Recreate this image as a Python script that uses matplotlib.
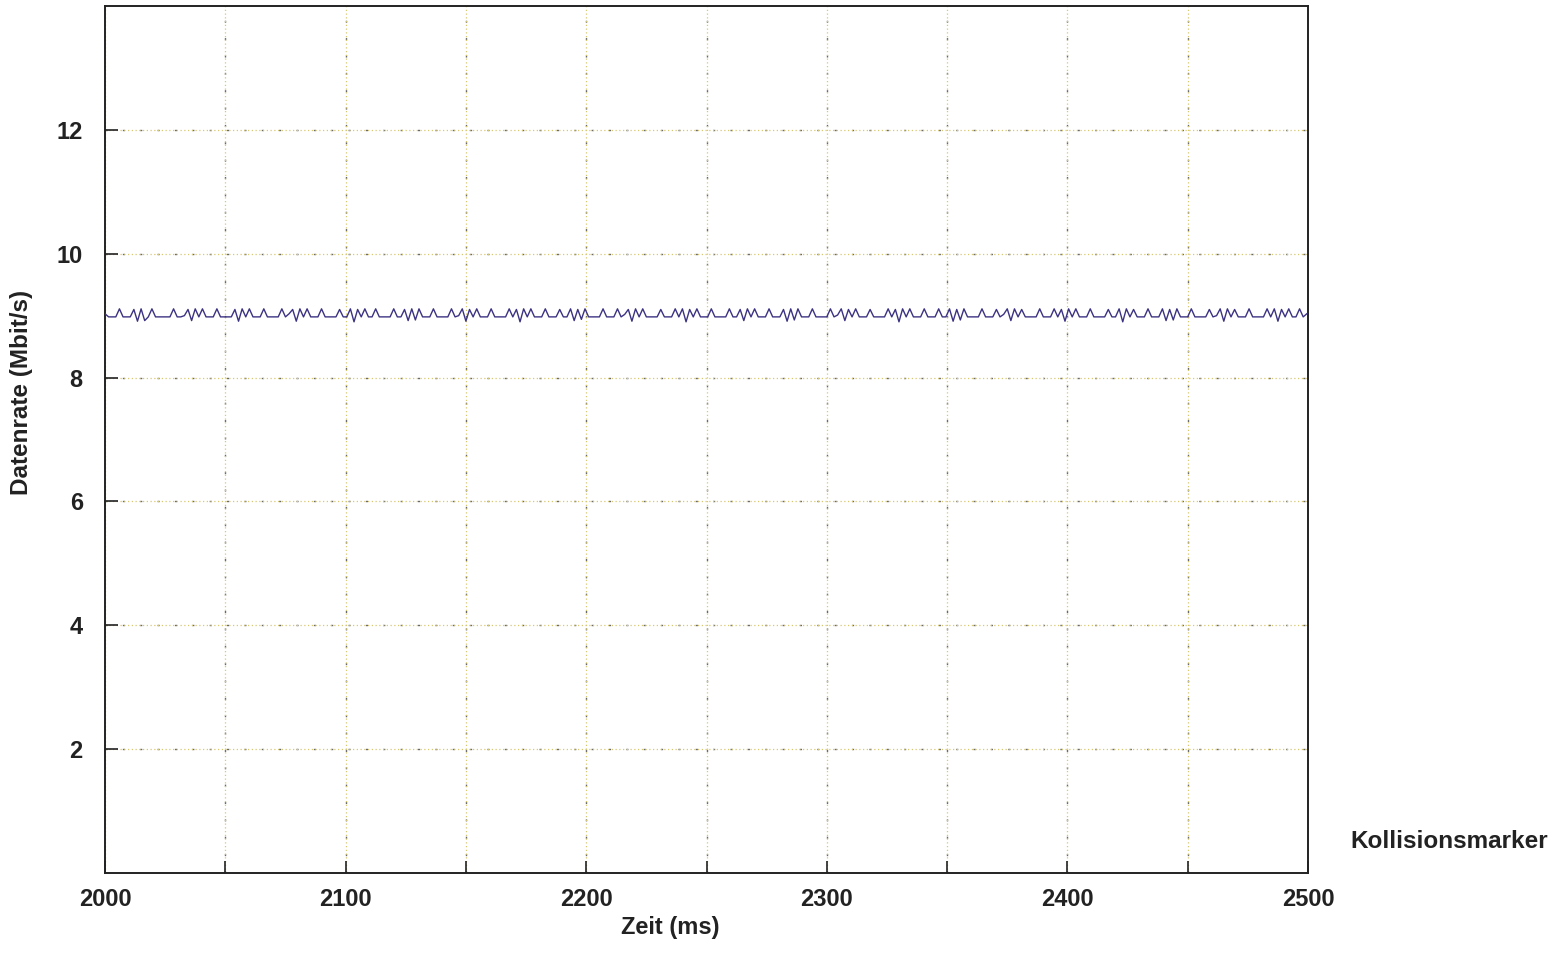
import numpy as np
import matplotlib
matplotlib.use("Agg")
import matplotlib.pyplot as plt
from matplotlib.ticker import MultipleLocator, FuncFormatter

# ---- data ----
t_start = 2000.0
t_step = 1.5
rate = [
    9.03, 8.98, 8.98, 8.98, 9.11, 8.98, 8.98, 8.98, 9.10, 8.91, 9.11, 8.92, 8.98, 9.11, 8.98,
    8.98, 8.98, 8.98, 8.98, 9.11, 8.98, 8.98, 9.00, 9.10, 8.92, 9.11, 8.98, 9.11, 8.98, 8.98,
    8.98, 9.11, 8.98, 8.98, 8.98, 8.98, 9.10, 8.91, 9.11, 8.98, 9.11, 8.98, 8.98, 8.98, 9.11,
    8.98, 8.98, 8.98, 8.98, 9.11, 8.98, 9.03, 9.10, 8.91, 9.11, 8.98, 9.11, 8.98, 8.98, 8.98,
    9.11, 8.98, 8.98, 8.98, 8.98, 9.10, 8.98, 8.98, 9.11, 8.90, 9.10, 8.98, 9.11, 8.98, 8.98,
    9.11, 8.98, 8.98, 8.98, 8.98, 9.11, 8.98, 8.98, 9.10, 8.92, 9.11, 8.93, 9.11, 8.98, 8.98,
    8.98, 9.11, 8.98, 8.98, 8.98, 8.98, 9.11, 8.98, 9.00, 9.11, 8.91, 9.10, 8.98, 9.11, 8.98,
    8.98, 8.98, 9.11, 8.98, 8.98, 8.98, 8.98, 9.11, 8.98, 9.10, 8.90, 9.11, 8.98, 9.11, 8.98,
    8.98, 8.98, 9.11, 8.98, 8.98, 8.98, 9.10, 8.98, 8.98, 9.11, 8.92, 9.10, 8.94, 9.11, 8.98,
    8.98, 8.98, 8.98, 9.11, 8.98, 8.98, 8.98, 9.11, 8.98, 9.02, 9.10, 8.91, 9.11, 8.98, 9.11,
    8.98, 8.98, 8.98, 8.98, 9.10, 8.98, 8.98, 8.98, 9.11, 8.98, 9.11, 8.90, 9.10, 8.98, 9.11,
    8.98, 8.98, 8.98, 9.11, 8.98, 8.98, 8.98, 8.98, 9.11, 8.98, 8.98, 9.10, 8.92, 9.11, 8.98,
    9.11, 8.98, 8.98, 8.98, 9.11, 8.98, 8.98, 8.98, 9.10, 8.91, 9.11, 8.93, 9.11, 8.98, 8.98,
    8.98, 9.11, 8.98, 8.98, 8.98, 8.98, 9.11, 8.98, 9.01, 9.11, 8.92, 9.10, 8.98, 9.11, 8.98,
    8.98, 8.98, 9.10, 8.98, 8.98, 8.98, 8.98, 9.11, 8.98, 9.10, 8.90, 9.11, 8.98, 9.11, 8.98,
    8.98, 8.98, 9.11, 8.98, 8.98, 8.98, 9.11, 8.98, 8.98, 9.11, 8.91, 9.10, 8.93, 9.11, 8.98,
    8.98, 8.98, 8.98, 9.11, 8.98, 8.98, 8.98, 9.10, 8.98, 9.02, 9.11, 8.92, 9.11, 8.98, 9.10,
    8.98, 8.98, 8.98, 8.98, 9.11, 8.98, 8.98, 8.98, 9.11, 8.98, 9.10, 8.91, 9.11, 8.98, 9.11,
    8.98, 8.98, 8.98, 9.11, 8.98, 8.98, 8.98, 8.98, 9.10, 8.98, 8.98, 9.11, 8.90, 9.11, 8.98,
    9.10, 8.98, 8.98, 8.98, 9.11, 8.98, 8.98, 8.98, 9.11, 8.92, 9.10, 8.93, 9.11, 8.98, 8.98,
    8.98, 9.11, 8.98, 8.98, 8.98, 8.98, 9.10, 8.98, 9.00, 9.11, 8.91, 9.11, 8.98, 9.10, 8.98,
    8.98, 8.98, 9.11, 8.98, 8.98, 8.98, 8.98, 9.11, 8.98, 9.11, 8.91, 9.10, 8.98, 9.11, 8.98,
    8.98, 9.11, 8.98, 9.03,
]
x_ticks_major = [2000, 2100, 2200, 2300, 2400, 2500]
y_ticks = [2, 4, 6, 8, 10, 12]
x_label = "Zeit (ms)"
y_label = "Datenrate (Mbit/s)"
side_label = "Kollisionsmarker"

time = t_start + t_step * np.arange(len(rate))

plt.rcParams["font.family"] = ["Liberation Sans", "DejaVu Sans"]
plt.rcParams["font.weight"] = "bold"

fig = plt.figure(figsize=(15.68, 9.68), dpi=100)
ax = fig.add_axes([105 / 1568, 1 - 873 / 968, (1308 - 105) / 1568, (873 - 6) / 968])

ax.plot(time, rate, color="#3b3282", linewidth=1.0, zorder=3, clip_on=True)

ax.set_xlim(2000, 2500)
ax.set_ylim(0, 14)

ax.xaxis.set_major_locator(MultipleLocator(50))
ax.xaxis.set_major_formatter(FuncFormatter(
    lambda v, p: f"{int(round(v))}" if int(round(v)) in x_ticks_major else ""))
ax.set_yticks(y_ticks)

# grid: pale yellow dotted with grey dashes overlaid
ax.grid(True, color="#d8c870", linestyle=(0, (1, 2)), linewidth=0.9, zorder=1)
xt = [v for v in ax.get_xticks() if 2000 < v <= 2500]
ax.vlines(xt, 0, 14, colors="#6a6a6a", linestyles=(0, (1.5, 11)), linewidth=1.0, zorder=1)
ax.hlines(y_ticks, 2000, 2500, colors="#6a6a6a", linestyles=(0, (1.5, 11)), linewidth=1.0, zorder=1)

ax.tick_params(axis="both", direction="in", length=9, width=1.2, color="#222222",
               labelsize=17, labelcolor="#222222")
ax.tick_params(axis="y", pad=16)
ax.tick_params(axis="x", pad=11)
for lab in ax.get_xticklabels() + ax.get_yticklabels():
    lab.set_fontweight("bold")

for s in ax.spines.values():
    s.set_linewidth(1.4)
    s.set_color("#222222")

ax.set_xlabel(x_label, fontsize=17, fontweight="bold", color="#222222")
ax.xaxis.set_label_coords((670 - 105) / 1203, -(916 - 873) / 867)
ax.set_ylabel(y_label, fontsize=17.5, fontweight="bold", color="#222222")
ax.yaxis.set_label_coords(-(105 - 33) / 1203, (873 - 392) / 867)

fig.text(1350 / 1568, 1 - 842 / 968, side_label, fontsize=17.5, fontweight="bold",
         color="#222222", ha="left", va="center")

fig.savefig("out.png", dpi=100, facecolor="white")
